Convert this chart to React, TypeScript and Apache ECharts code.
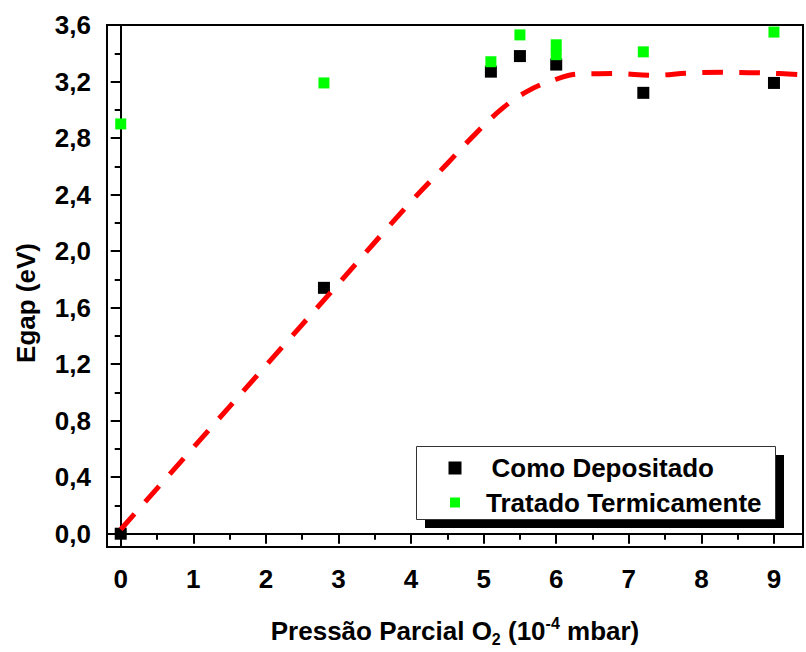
import React, { useEffect, useRef } from "react";
import * as echarts from "echarts";

const xDeposited = [0, 2.8, 5.1, 5.5, 6.0, 7.2, 9.0];
const yDeposited = [0.0, 1.74, 3.27, 3.38, 3.32, 3.12, 3.19];

const xTreated = [0, 2.8, 5.1, 5.5, 6.0, 6.0, 7.2, 9.0];
const yTreated = [2.9, 3.19, 3.34, 3.53, 3.46, 3.39, 3.41, 3.55];

const xFit = [0, 1, 2, 3, 4, 4.5, 4.88, 5.27, 5.6, 5.91, 6.33, 6.83, 7.33, 7.84, 8.35, 8.9, 9.45];
const yFit = [0.03, 0.61, 1.19, 1.77, 2.35, 2.62, 2.826, 3.015, 3.13, 3.2, 3.254, 3.256, 3.244, 3.26, 3.265, 3.26, 3.245];

const xMajorTicks = [0, 1, 2, 3, 4, 5, 6, 7, 8, 9];
const xMinorTicks = [0.5, 1.5, 2.5, 3.5, 4.5, 5.5, 6.5, 7.5, 8.5];
const yMajorTicks = [0, 0.4, 0.8, 1.2, 1.6, 2.0, 2.4, 2.8, 3.2, 3.6];
const yMinorTicks = [0.2, 0.6, 1.0, 1.4, 1.8, 2.2, 2.6, 3.0, 3.4];

const seriesNames = ["Como Depositado", "Tratado Termicamente"];

const FONT = "'Liberation Sans', Arial, sans-serif";
const FS = 26;

export default function App() {
  const ref = useRef<HTMLDivElement>(null);

  useEffect(() => {
    if (!ref.current) return;
    const chart = echarts.init(ref.current, undefined, { renderer: "svg" });
    const X_MIN = -0.189;
    const X_MAX = 9.4;
    const Y_MIN = -0.094;
    const Y_MAX = 3.6;
    const lineBlack = { color: "#000", width: 2 };
    const labelStyle = {
      color: "#000",
      fontSize: FS,
      fontWeight: "bold" as const,
      fontFamily: FONT,
    };

    chart.setOption({
      animation: false,
      backgroundColor: "#fff",
      grid: {
        left: 107,
        top: 25,
        right: 3,
        bottom: 102,
        show: true,
        borderColor: "#000",
        borderWidth: 2,
        backgroundColor: "transparent",
      },
      xAxis: [
        {
          type: "value",
          min: X_MIN,
          max: X_MAX,
          position: "bottom",
          axisLine: { show: true, lineStyle: lineBlack },
          axisTick: { show: true, length: 10, lineStyle: lineBlack, customValues: xMajorTicks },
          axisLabel: {
            ...labelStyle,
            customValues: xMajorTicks,
            margin: 19,
            formatter: (v: number) => String(Math.round(v)),
          },
          splitLine: { show: false },
          name: "Pressão Parcial O{sub|2} (10{sup|-4} mbar)",
          nameLocation: "middle",
          nameGap: 68,
          nameTextStyle: {
            ...labelStyle,
            lineHeight: 32,
            rich: {
              sub: { fontSize: 16, fontWeight: "bold", fontFamily: FONT, color: "#000", verticalAlign: "bottom", lineHeight: 16 },
              sup: { fontSize: 16, fontWeight: "bold", fontFamily: FONT, color: "#000", verticalAlign: "top", lineHeight: 16 },
            },
          },
        },
        {
          type: "value",
          min: X_MIN,
          max: X_MAX,
          position: "bottom",
          axisLine: { show: false },
          axisTick: { show: true, length: 6, lineStyle: lineBlack, customValues: xMinorTicks },
          axisLabel: { show: false },
          splitLine: { show: false },
        },
      ],
      yAxis: [
        {
          type: "value",
          min: Y_MIN,
          max: Y_MAX,
          position: "left",
          axisLine: { show: true, lineStyle: lineBlack },
          axisTick: { show: true, length: 10, lineStyle: lineBlack, customValues: yMajorTicks },
          axisLabel: {
            ...labelStyle,
            customValues: yMajorTicks,
            margin: 16,
            formatter: (v: number) => v.toFixed(1).replace(".", ","),
          },
          splitLine: { show: false },
        },
        {
          type: "value",
          min: Y_MIN,
          max: Y_MAX,
          position: "left",
          axisLine: { show: false },
          axisTick: { show: true, length: 6, lineStyle: lineBlack, customValues: yMinorTicks },
          axisLabel: { show: false },
          splitLine: { show: false },
        },
      ],
      legend: [
        {
          data: [seriesNames[0]],
          left: 448.5,
          top: 455,
          padding: 0,
          icon: "rect",
          itemWidth: 13,
          itemHeight: 13,
          z: 20,
          textStyle: { ...labelStyle, padding: [0, 0, 0, 25] },
        },
        {
          data: [seriesNames[1]],
          left: 450,
          top: 489.5,
          padding: 0,
          icon: "rect",
          itemWidth: 10,
          itemHeight: 10,
          z: 20,
          textStyle: { ...labelStyle, padding: [0, 0, 0, 21] },
        },
      ],
      graphic: [
        {
          type: "rect",
          z: 10,
          shape: { x: 425, y: 455, width: 359, height: 73 },
          style: { fill: "#000" },
        },
        {
          type: "rect",
          z: 11,
          shape: { x: 416.5, y: 446.5, width: 359, height: 73 },
          style: { fill: "#fff", stroke: "#333", lineWidth: 1 },
        },
        {
          type: "text",
          x: 26,
          y: 303,
          rotation: Math.PI / 2,
          style: {
            text: "Egap (eV)",
            font: `bold ${FS}px ${FONT}`,
            fill: "#000",
            textAlign: "center",
            textVerticalAlign: "middle",
          },
        },
      ],
      series: [
        {
          name: seriesNames[0],
          type: "scatter",
          symbol: "rect",
          symbolSize: 12,
          itemStyle: { color: "#000", opacity: 1 },
          data: xDeposited.map((x, i) => [x, yDeposited[i]]),
          z: 2,
        },
        {
          name: seriesNames[1],
          type: "scatter",
          symbol: "rect",
          symbolSize: 11,
          itemStyle: { color: "#00ff00", opacity: 1 },
          data: xTreated.map((x, i) => [x, yTreated[i]]),
          z: 3,
        },
        {
          name: "Ajuste",
          type: "line",
          smooth: 0.4,
          showSymbol: false,
          symbol: "none",
          clip: false,
          lineStyle: { color: "#ff0000", width: 5, type: [21, 16], cap: "butt" },
          data: xFit.map((x, i) => [x, yFit[i]]),
          z: 4,
        },
      ],
    });
    return () => chart.dispose();
  }, []);

  return (
    <div
      ref={ref}
      style={{ position: "fixed", left: 0, top: 0, width: 806, height: 652, background: "#fff" }}
    />
  );
}
